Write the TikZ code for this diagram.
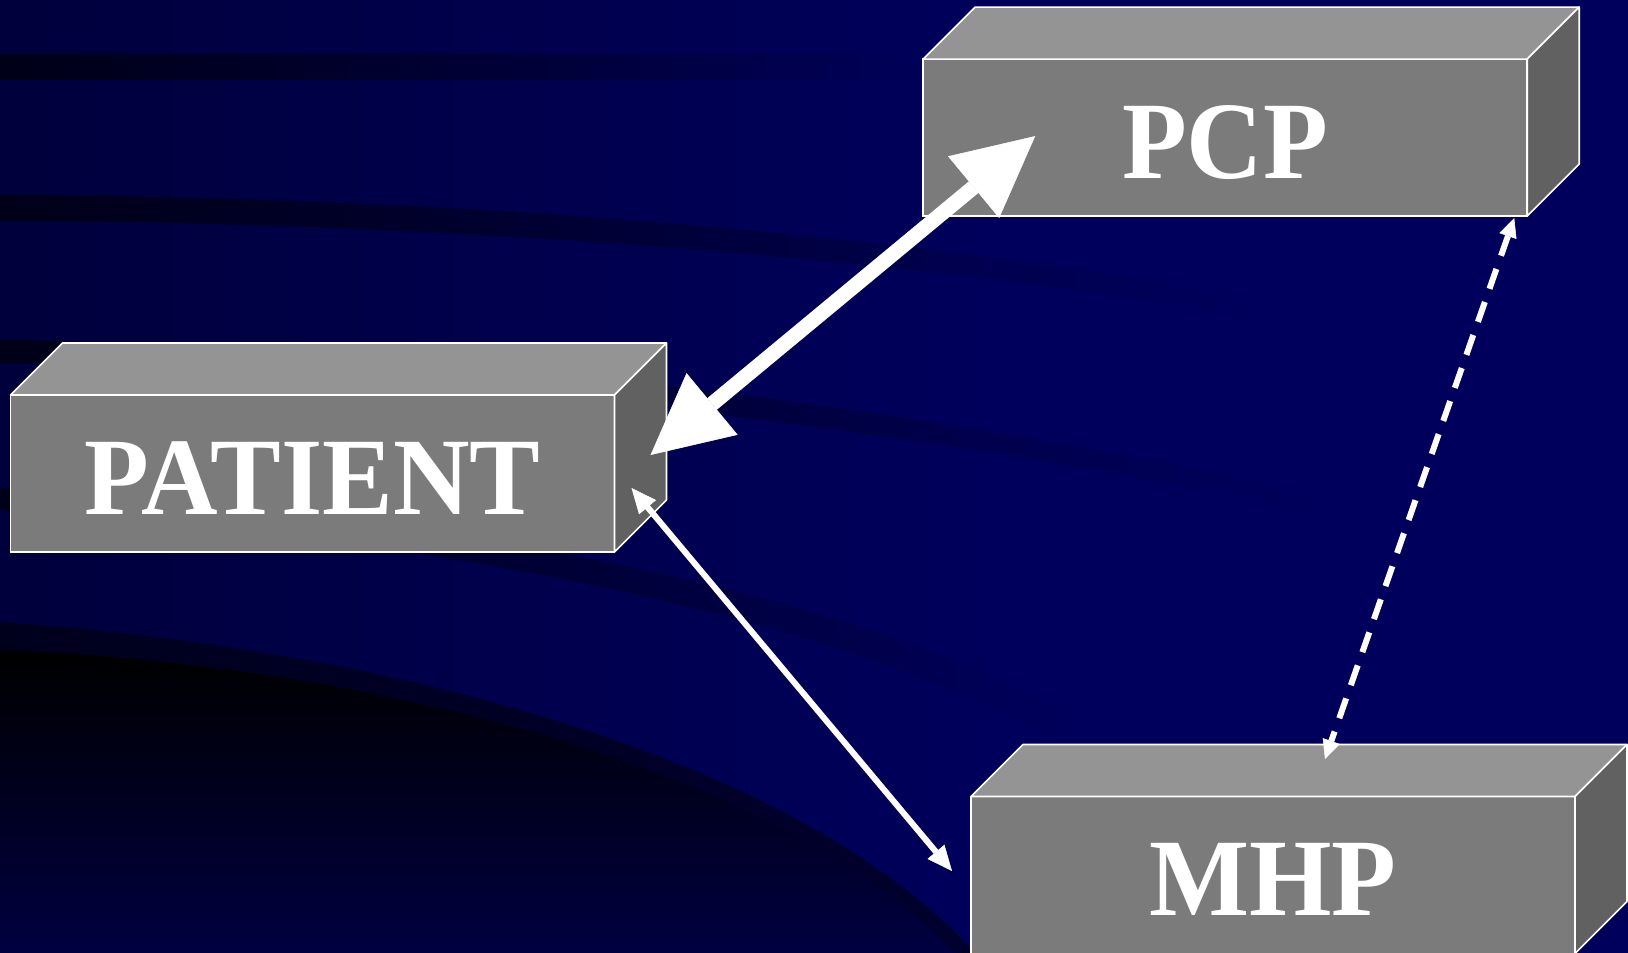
\documentclass[tikz,border=0pt]{standalone}
\usepackage{fontspec}
\setmainfont{Liberation Serif}
\usetikzlibrary{positioning,arrows.meta,calc,fadings}
\definecolor{navy}{RGB}{0,0,92}
\definecolor{navyl}{RGB}{0,0,60}
\definecolor{facegray}{RGB}{123,123,123}
\definecolor{topgray}{RGB}{148,148,148}
\definecolor{sidegray}{RGB}{97,97,97}
\tikzfading[name=bandfade,left color=transparent!0,middle color=transparent!20,right color=transparent!100]
\newcommand{\slabtxt}[1]{\scalebox{1}[1.04]{#1}}
\tikzset{
  slab/.style={rectangle,draw=white,line width=1.6pt,fill=facegray,outer sep=0pt,inner sep=0pt,
    minimum width=604pt,minimum height=157pt,text=white,text height=81pt,text depth=0pt,
    font=\fontsize{106}{110}\selectfont\bfseries},
  slabtop/.style={fill=topgray,draw=white,line width=1.6pt,line join=round},
  slabside/.style={fill=sidegray,draw=white,line width=1.6pt,line join=round},
  bigarr/.style={{Triangle[length=80pt,width=80pt,line width=0.5pt]}-{Triangle[length=80pt,width=80pt,line width=0.5pt]},
    line width=15pt,white},
  thinarr/.style={{Triangle[length=25pt,width=22pt,line width=0.5pt]}-{Triangle[length=25pt,width=22pt,line width=0.5pt]},
    line width=6pt,white},
  dasharr/.style={{Triangle[length=19pt,width=18pt,line width=0.5pt]}-{Triangle[length=19pt,width=18pt,line width=0.5pt]},
    line width=6pt,white,dash pattern=on 21pt off 14pt},
  band/.style={fill=black,opacity=0.6,path fading=bandfade},
}

\begin{document}
\begin{tikzpicture}[x=1pt,y=-1pt]
  \useasboundingbox (0,0) rectangle (1628,953);
  % background with dark sweeping bands
  \fill[navy] (0,0) rectangle (1628,953);
  \shade[left color=navyl,right color=navy] (0,0) rectangle (1000,953);
  \fill[band] (0,54) rectangle (930,80);
  \fill[band] (0,195) .. controls (500,197) and (950,240) .. (1260,300)
    -- (1260,318) .. controls (950,265) and (500,222) .. (0,221) -- cycle;
  \fill[band] (0,340) .. controls (400,345) and (900,400) .. (1320,495)
    -- (1320,512) .. controls (900,425) and (400,367) .. (0,363) -- cycle;
  \fill[band] (0,488) .. controls (450,515) and (850,590) .. (1090,720)
    -- (1070,745) .. controls (830,615) and (450,538) .. (0,510) -- cycle;
  \fill[black,opacity=0.5] (0,622) .. controls (400,650) and (800,760) .. (975,953) -- (0,953) -- cycle;
  \shade[top color=black,bottom color=navy!70!black] (0,650) .. controls (380,665) and (780,770) .. (955,953) -- (0,953) -- cycle;

  % the three slabs
  \node[slab] (patient) at (312.5,473.5) {\slabtxt{PATIENT}};
  \node[slab] (pcp) at (1225.2,137.6) {\slabtxt{PCP}};
  \node[slab] (mhp) at (1273,875) {\slabtxt{MHP}};
  \foreach \n in {patient,pcp,mhp}{
    \filldraw[slabtop] (\n.north west) -- ++(52,-52) -- ($(\n.north east)+(52,-52)$) -- (\n.north east) -- cycle;
    \filldraw[slabside] (\n.north east) -- ++(52,-52) -- ($(\n.south east)+(52,-52)$) -- (\n.south east) -- cycle;
  }

  % arrow ends
  \coordinate (pa-hi) at ($(patient.east)+(36,-18.5)$);
  \coordinate (pa-lo) at ($(patient.east)+(17,14.5)$);
  \coordinate (pc-w) at ($(pcp.west)+(112,-1.5)$);
  \coordinate (pc-se) at ($(pcp.south east)+(-13,2)$);
  \coordinate (mh-w) at ($(mhp.west)+(-19,-4)$);
  \coordinate (mh-top) at ($(mhp.north)+(52,-37.5)$);

  \draw[bigarr] (pa-hi) -- (pc-w);
  \draw[thinarr] (pa-lo) -- (mh-w);
  \draw[dasharr] (pc-se) -- (mh-top);
\end{tikzpicture}
\end{document}
